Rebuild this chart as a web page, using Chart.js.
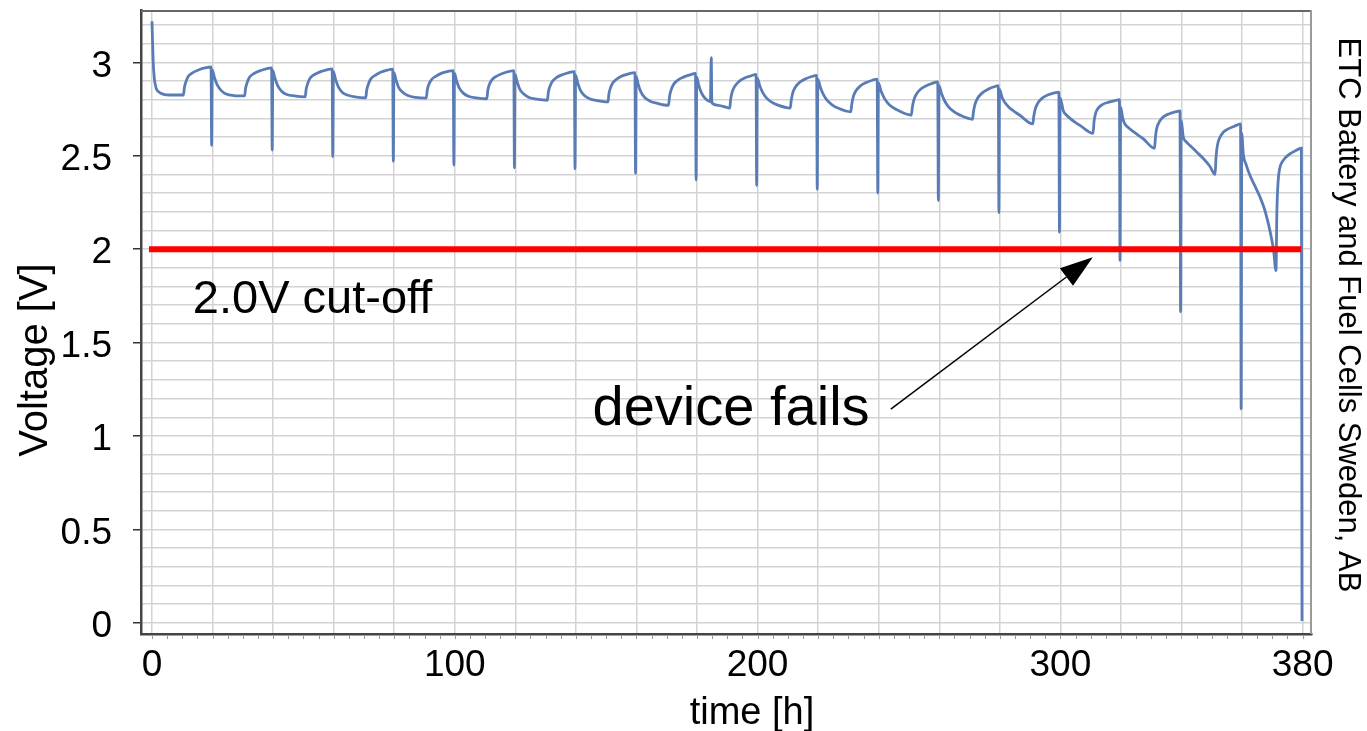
<!DOCTYPE html>
<html>
<head>
<meta charset="utf-8">
<script src="https://cdn.jsdelivr.net/npm/chart.js@4.4.1/dist/chart.umd.min.js"></script>
<style>
  html, body { margin: 0; padding: 0; background: #ffffff; }
  #wrap { width: 1367px; height: 731px; }
</style>
</head>
<body>
<div id="wrap"><canvas id="chart" width="1367" height="731"></canvas></div>
<script>
// Cell voltage during repeated 20 h charge / pulse cycles
const hours = [
  0, 0.15, 0.4, 0.8, 1.4, 2.4, 3.6, 6, 10.4, 10.7, 11.2, 12, 13.5, 15.5, 17.5, 19.5,
  19.7, 19.9, 20.6, 21.5, 22.8, 24.5, 27, 30.6, 30.9, 31.4, 32.2, 33.7, 35.7, 37.7, 39.5,
  39.7, 39.9, 40.6, 41.5, 42.8, 44.5, 47, 50.6, 50.9, 51.4, 52.2, 53.7, 55.7, 57.7, 59.5,
  59.7, 59.9, 60.6, 61.5, 62.8, 64.5, 67, 70.6, 70.9, 71.4, 72.2, 73.7, 75.7, 77.7, 79.5,
  79.7, 79.9, 80.6, 81.5, 82.8, 84.5, 87, 90.6, 90.9, 91.4, 92.2, 93.7, 95.7, 97.7, 99.5,
  99.7, 99.9, 100.6, 101.5, 102.8, 104.5, 107, 110.6, 110.9, 111.4, 112.2, 113.7, 115.7, 117.7, 119.5,
  119.7, 119.9, 120.6, 121.5, 122.8, 124.5, 127, 130.6, 130.9, 131.4, 132.2, 133.7, 135.7, 137.7, 139.5,
  139.7, 139.9, 140.6, 141.5, 142.8, 144.5, 147, 150.6, 150.9, 151.4, 152.2, 153.7, 155.7, 157.7, 159.5,
  159.7, 159.9, 160.6, 161.5, 162.8, 164.5, 167, 170.6, 170.9, 171.4, 172.2, 173.7, 175.7, 177.7, 179.5,
  179.7, 179.9, 180.6, 181.5, 182.8, 184.4, 184.7, 184.9, 187, 190.8, 191.1, 191.6, 192.4, 193.9, 195.9, 197.9, 199.5,
  199.7, 199.9, 200.8, 201.8, 203, 204.5, 206.5, 210.8, 211.1, 211.6, 212.4, 213.9, 215.9, 217.9, 219.5,
  219.7, 219.9, 220.8, 221.8, 223, 224.5, 226.5, 230.8, 231.1, 231.6, 232.4, 233.9, 235.9, 237.9, 239.5,
  239.7, 239.9, 240.8, 241.8, 243, 244.5, 246.5, 250.8, 251.1, 251.6, 252.4, 253.9, 255.9, 257.9, 259.5,
  259.7, 259.9, 260.8, 261.8, 263, 264.5, 266.5, 271, 271.3, 271.8, 272.6, 274.1, 276.1, 278.1, 279.5,
  279.7, 279.9, 280.8, 281.8, 283, 284.5, 286.5, 290.9, 291.2, 291.7, 292.5, 294, 296, 298, 299.5,
  299.7, 299.9, 301, 302, 303.2, 304.8, 306.7, 310.8, 311.1, 311.6, 312.5, 314, 316, 318, 319.5,
  319.7, 319.9, 320.6, 321.3, 322.5, 324, 327.4, 331.1, 331.4, 331.8, 332.8, 334, 336, 338, 339.5,
  339.7, 339.9, 340.6, 341.5, 342.8, 345, 347.2, 349.3, 351.1, 351.4, 351.8, 353.3, 355, 357.5, 359.5,
  359.7, 359.9, 360.4, 361.4, 362.6, 364.2, 365.9, 367.4, 368.7, 369.7, 370.4, 371.2, 371.5, 371.9, 372.4, 373.6, 375.8, 378, 379.6,
  379.8
];
const volts = [
  3.22, 3.13, 3.00, 2.91, 2.86, 2.84, 2.83, 2.825, 2.825, 2.865, 2.895, 2.925, 2.945, 2.96, 2.97, 2.975,
  2.555, 2.96, 2.92, 2.88, 2.85, 2.83, 2.822, 2.82, 2.86, 2.89, 2.92, 2.94, 2.955, 2.965, 2.97,
  2.53, 2.955, 2.915, 2.875, 2.845, 2.828, 2.82, 2.815, 2.855, 2.885, 2.915, 2.935, 2.95, 2.96, 2.965,
  2.495, 2.95, 2.91, 2.87, 2.84, 2.825, 2.815, 2.81, 2.85, 2.88, 2.91, 2.93, 2.948, 2.958, 2.963,
  2.47, 2.945, 2.905, 2.865, 2.84, 2.822, 2.812, 2.808, 2.85, 2.88, 2.905, 2.925, 2.942, 2.951, 2.956,
  2.45, 2.94, 2.9, 2.862, 2.835, 2.818, 2.81, 2.805, 2.85, 2.88, 2.905, 2.925, 2.94, 2.95, 2.955,
  2.435, 2.935, 2.895, 2.855, 2.83, 2.812, 2.803, 2.797, 2.84, 2.87, 2.897, 2.92, 2.935, 2.945, 2.95,
  2.43, 2.93, 2.89, 2.85, 2.822, 2.805, 2.795, 2.788, 2.83, 2.862, 2.89, 2.913, 2.93, 2.94, 2.945,
  2.405, 2.925, 2.88, 2.84, 2.81, 2.792, 2.78, 2.77, 2.815, 2.85, 2.88, 2.905, 2.922, 2.933, 2.94,
  2.37, 2.92, 2.875, 2.835, 2.805, 2.79, 3.025, 2.782, 2.77, 2.755, 2.80, 2.84, 2.87, 2.898, 2.917, 2.928, 2.935,
  2.34, 2.915, 2.87, 2.835, 2.808, 2.788, 2.772, 2.755, 2.795, 2.835, 2.865, 2.893, 2.912, 2.924, 2.93,
  2.32, 2.91, 2.862, 2.826, 2.796, 2.774, 2.755, 2.735, 2.775, 2.815, 2.845, 2.873, 2.892, 2.904, 2.91,
  2.30, 2.89, 2.845, 2.81, 2.782, 2.76, 2.742, 2.718, 2.758, 2.798, 2.828, 2.857, 2.876, 2.889, 2.895,
  2.26, 2.875, 2.83, 2.793, 2.763, 2.74, 2.72, 2.695, 2.735, 2.775, 2.806, 2.835, 2.856, 2.869, 2.875,
  2.195, 2.855, 2.81, 2.782, 2.76, 2.74, 2.718, 2.67, 2.71, 2.75, 2.78, 2.808, 2.826, 2.836, 2.84,
  2.09, 2.81, 2.74, 2.718, 2.70, 2.68, 2.66, 2.62, 2.68, 2.725, 2.755, 2.775, 2.787, 2.795, 2.80,
  1.94, 2.76, 2.70, 2.67, 2.65, 2.63, 2.59, 2.54, 2.60, 2.645, 2.685, 2.708, 2.725, 2.735, 2.74,
  1.665, 2.69, 2.60, 2.575, 2.555, 2.52, 2.485, 2.445, 2.40, 2.49, 2.55, 2.615, 2.64, 2.658, 2.67,
  1.145, 2.62, 2.51, 2.45, 2.395, 2.34, 2.28, 2.215, 2.135, 2.06, 1.995, 1.885, 2.20, 2.36, 2.43, 2.475, 2.51, 2.53, 2.54,
  0.01
];

// Cut-off level
const cutoffHours = [-1, 379.5];
const cutoffVolts = [2.0, 2.0];

// Axes: grid steps and labelled ticks
const timeGridStep = 20;
const timeTickLabels = [0, 100, 200, 300, 380];
const voltGridStep = 0.1;
const voltTickLabels = [0, 0.5, 1, 1.5, 2, 2.5, 3];

const FONT = "'Liberation Sans', Arial, Helvetica, sans-serif";

function gridValues(from, to, step) {
  const out = [];
  const n = Math.round((to - from) / step);
  for (let i = 0; i <= n; i++) out.push(Math.round((from + i * step) * 1000) / 1000);
  return out;
}
const timeGrid = gridValues(0, 380, timeGridStep);
const voltGrid = gridValues(0, 3.2, voltGridStep);
const isVoltLabel = v => voltTickLabels.some(l => Math.abs(l - v) < 1e-6);
const isTimeLabel = v => timeTickLabels.some(l => Math.abs(l - v) < 1e-6);

const decor = {
  id: 'decor',
  afterDatasetsDraw(chart) {
    const { ctx, chartArea: a, scales: { x, y } } = chart;
    ctx.save();

    // top and right edges of the plot frame
    ctx.lineWidth = 2;
    ctx.strokeStyle = '#666666';
    ctx.beginPath(); ctx.moveTo(a.left, a.top + 1); ctx.lineTo(a.right, a.top + 1); ctx.stroke();
    ctx.strokeStyle = '#9a9a9a';
    ctx.beginPath(); ctx.moveTo(a.right - 1, a.top); ctx.lineTo(a.right - 1, a.bottom); ctx.stroke();

    // small ticks every 5 h below the time axis
    ctx.strokeStyle = '#9a9a9a';
    ctx.lineWidth = 1;
    for (let t = 0; t <= 380; t += 5) {
      const px = Math.round(x.getPixelForValue(t)) + 0.5;
      ctx.beginPath(); ctx.moveTo(px, a.bottom + 1); ctx.lineTo(px, a.bottom + 5); ctx.stroke();
    }

    // text annotations
    ctx.fillStyle = '#000000';
    ctx.textBaseline = 'alphabetic';
    ctx.textAlign = 'left';
    ctx.font = `47px ${FONT}`;
    ctx.fillText('2.0V cut-off', x.getPixelForValue(13.5), y.getPixelForValue(1.66));
    ctx.font = `56px ${FONT}`;
    ctx.fillText('device fails', x.getPixelForValue(145.5), y.getPixelForValue(1.06));

    // arrow towards the failing pulse
    const p0 = { x: x.getPixelForValue(244), y: y.getPixelForValue(1.144) };
    const p1 = { x: x.getPixelForValue(310.7), y: y.getPixelForValue(1.957) };
    const ang = Math.atan2(p1.y - p0.y, p1.x - p0.x);
    const len = 33, half = 11;
    const bx = p1.x - len * Math.cos(ang), by = p1.y - len * Math.sin(ang);
    ctx.strokeStyle = '#000000';
    ctx.lineWidth = 1.5;
    ctx.beginPath(); ctx.moveTo(p0.x, p0.y); ctx.lineTo(bx, by); ctx.stroke();
    ctx.beginPath();
    ctx.moveTo(p1.x, p1.y);
    ctx.lineTo(bx + half * Math.sin(ang), by - half * Math.cos(ang));
    ctx.lineTo(bx - half * Math.sin(ang), by + half * Math.cos(ang));
    ctx.closePath();
    ctx.fill();

    // axis titles
    ctx.textAlign = 'center';
    ctx.font = `38px ${FONT}`;
    ctx.fillText('time [h]', 752, 724);
    ctx.save();
    ctx.translate(47, 360);
    ctx.rotate(-Math.PI / 2);
    ctx.font = `40px ${FONT}`;
    ctx.fillText('Voltage [V]', 0, 0);
    ctx.restore();

    // credit along the right edge
    ctx.save();
    ctx.translate(1339, 315);
    ctx.rotate(Math.PI / 2);
    ctx.font = `31px ${FONT}`;
    ctx.fillText('ETC Battery and Fuel Cells Sweden, AB', 0, 0);
    ctx.restore();

    ctx.restore();
  }
};

new Chart(document.getElementById('chart'), {
  type: 'line',
  data: {
    datasets: [
      {
        label: 'Voltage',
        data: hours.map((h, i) => ({ x: h, y: volts[i] })),
        borderColor: '#5a7cb6',
        borderWidth: 2.8,
        pointRadius: 0,
        cubicInterpolationMode: 'monotone',
        fill: false,
        order: 2
      },
      {
        label: 'Cut-off',
        data: cutoffHours.map((h, i) => ({ x: h, y: cutoffVolts[i] })),
        borderColor: '#ff0000',
        borderWidth: 6,
        pointRadius: 0,
        fill: false,
        order: 1
      }
    ]
  },
  options: {
    responsive: false,
    animation: false,
    devicePixelRatio: 1,
    layout: { padding: { top: 10, right: 55, left: 0, bottom: 0 } },
    plugins: { legend: { display: false }, tooltip: { enabled: false } },
    scales: {
      x: {
        type: 'linear',
        min: -3.63,
        max: 383.1,
        afterBuildTicks: axis => { axis.ticks = timeGrid.map(v => ({ value: v })); },
        afterFit: s => { s.height = 97; s.paddingLeft = 0; s.paddingRight = 0; },
        grid: { color: '#d3d3d3', lineWidth: 1.5, drawTicks: false },
        border: { color: '#444444', width: 2.5 },
        ticks: {
          autoSkip: false,
          maxRotation: 0,
          padding: 10,
          color: '#000000',
          font: { family: FONT, size: 37 },
          callback: v => (isTimeLabel(v) ? String(v) : '')
        }
      },
      y: {
        type: 'linear',
        min: -0.06,
        max: 3.28,
        afterBuildTicks: axis => { axis.ticks = voltGrid.map(v => ({ value: v })); },
        afterFit: s => { s.width = 141; s.paddingTop = 0; s.paddingBottom = 0; },
        grid: {
          color: '#d3d3d3',
          lineWidth: 1.5,
          tickLength: 8,
          tickWidth: 1.5,
          tickColor: c => (c.tick && isVoltLabel(c.tick.value) ? '#333333' : 'rgba(0,0,0,0)')
        },
        border: { color: '#444444', width: 2.5 },
        ticks: {
          autoSkip: false,
          padding: 21,
          labelOffset: 4,
          color: '#000000',
          font: { family: FONT, size: 37 },
          callback: v => (isVoltLabel(v) ? String(v) : '')
        }
      }
    }
  },
  plugins: [decor]
});
</script>
</body>
</html>
